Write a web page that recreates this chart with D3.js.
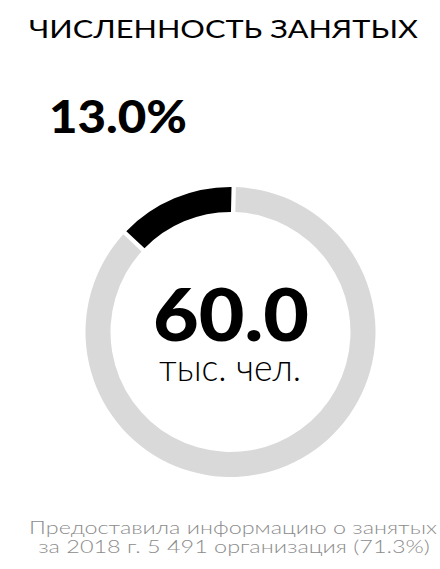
<!DOCTYPE html>
<html><head><meta charset="utf-8">
<script src="https://cdn.jsdelivr.net/npm/d3@7"></script>
<style>html,body{margin:0;padding:0;background:#fff;}svg{display:block;}</style>
</head><body>
<div id="chart"></div>
<script>
const title = "ЧИСЛЕННОСТЬ ЗАНЯТЫХ";
const shareLabels = ["занятые", "остальные"];
const shareValues = [13.0, 87.0];
const totalValue = [60.0];
const unitLabel = ["тыс. чел."];
const footerLines = ["Предоставила информацию о занятых", "за 2018 г. 5 491 организация (71.3%)"];

const W = 440, H = 569;
const svg = d3.select("#chart").append("svg").attr("width", W).attr("height", H);
const font = "Lato, 'Open Sans', sans-serif";

// place text at (x,y) and stretch horizontally to target width w
function label(x, y, anchor, size, weight, fill, str, w) {
  const s = svg.append("text").attr("x", 0).attr("y", 0).attr("text-anchor", anchor)
    .attr("font-family", font).attr("font-size", size).attr("font-weight", weight)
    .attr("fill", fill).text(str);
  const cur = s.node().getComputedTextLength();
  const sx = w / cur;
  s.attr("transform", `translate(${x},${y}) scale(${sx},1)`);
  return s;
}

label(223.5, 38, "middle", 25, 400, "#000", title, 389);
label(49, 133, "start", 46, 900, "#000", d3.format(".1f")(shareValues[0]) + "%", 138);

// donut
const cx = 230.5, cy = 332, rOuter = 145, rInner = 120;
const a0 = -2 * Math.PI * shareValues[0] / 100;
const pie = d3.pie().sort(null).startAngle(a0).endAngle(a0 + 2 * Math.PI).padAngle(0.03);
const arc = d3.arc().innerRadius(rInner).outerRadius(rOuter).padRadius(rOuter);
const color = d3.scaleOrdinal().domain(shareLabels).range(["#000000", "#d9d9d9"]);
const g = svg.append("g").attr("transform", `translate(${cx},${cy})`);
g.selectAll("path").data(pie(shareValues)).join("path")
  .attr("d", arc).attr("fill", (d, i) => color(shareLabels[i]));

label(231, 341, "middle", 72, 900, "#000", d3.format(".1f")(totalValue[0]), 156);
label(230, 381, "middle", 37, 300, "#000", unitLabel[0], 142);

const fy = [534, 553], fw = [408, 392], fx = [233, 234];
footerLines.forEach((s, i) => label(fx[i], fy[i], "middle", 17.5, 300, "#8c8c8c", s, fw[i]));
</script>
</body></html>
